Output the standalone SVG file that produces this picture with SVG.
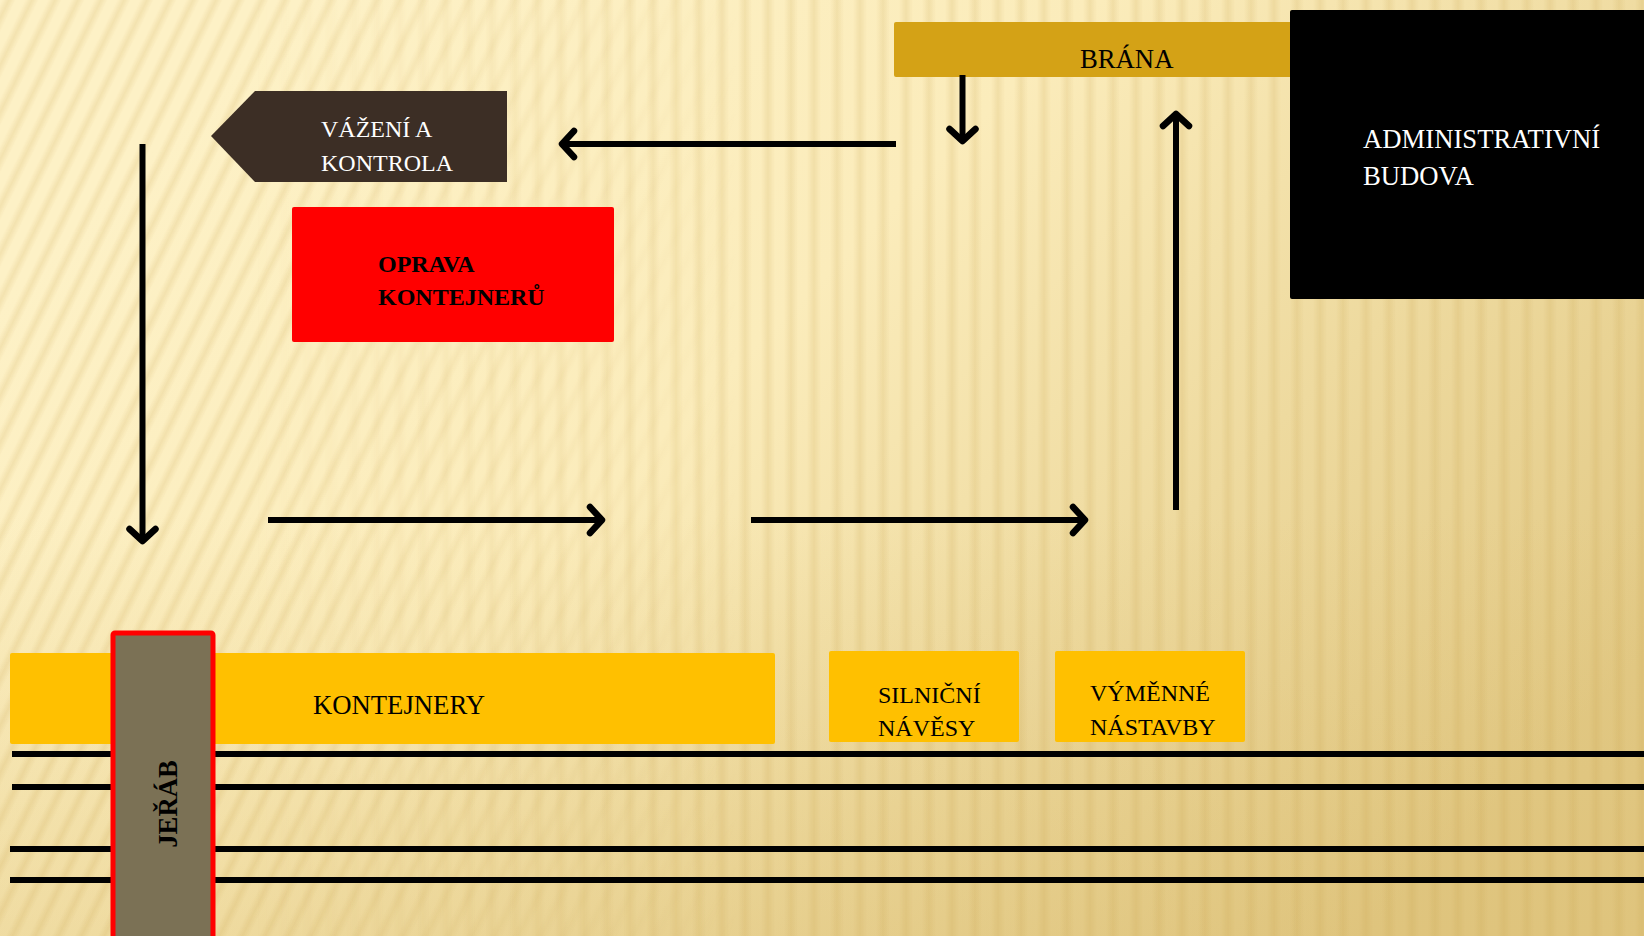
<svg xmlns="http://www.w3.org/2000/svg" width="1644" height="936" viewBox="0 0 1644 936">
<defs>
<style>
.t{font-family:"Liberation Serif","Times New Roman",serif;}
.w{fill:#ffffff;}
.k{fill:#000000;}
.s24{font-size:24px;}
.s27{font-size:26.7px;}
.b{font-weight:bold;}
.conn{stroke:#000;stroke-width:6;fill:none;}
.rail{stroke:#000;stroke-width:6;}
.yel{fill:#FFC000;}
</style>
<linearGradient id="bg" x1="300" y1="0" x2="1300" y2="1000" gradientUnits="userSpaceOnUse">
<stop offset="0" stop-color="#FDF1C6"/>
<stop offset="0.4" stop-color="#FBECBB"/>
<stop offset="0.7" stop-color="#EEDA9F"/>
<stop offset="1" stop-color="#E2C985"/>
</linearGradient>
<linearGradient id="bgV" x1="0" y1="0" x2="0" y2="936" gradientUnits="userSpaceOnUse">
<stop offset="0.55" stop-color="#D9BB6E" stop-opacity="0"/>
<stop offset="1" stop-color="#D9BB6E" stop-opacity="0.35"/>
</linearGradient>
<linearGradient id="stripeG" x1="0" y1="0" x2="1" y2="0">
<stop offset="0" stop-color="#C9A24A" stop-opacity="0"/>
<stop offset="0.5" stop-color="#C9A24A" stop-opacity="0.18"/>
<stop offset="1" stop-color="#C9A24A" stop-opacity="0"/>
</linearGradient>
<pattern id="stV" width="23" height="40" patternUnits="userSpaceOnUse">
<rect x="2" y="0" width="14" height="40" fill="url(#stripeG)"/>
</pattern>
<pattern id="stS" width="23" height="40" patternUnits="userSpaceOnUse" patternTransform="skewX(-26)">
<rect x="2" y="0" width="14" height="40" fill="url(#stripeG)"/>
</pattern>
<linearGradient id="mL" x1="0" y1="0" x2="1644" y2="0" gradientUnits="userSpaceOnUse">
<stop offset="0" stop-color="#fff"/>
<stop offset="0.15" stop-color="#fff"/>
<stop offset="0.45" stop-color="#000"/>
</linearGradient>
<linearGradient id="mR" x1="0" y1="0" x2="1644" y2="0" gradientUnits="userSpaceOnUse">
<stop offset="0" stop-color="#000"/>
<stop offset="0.15" stop-color="#000"/>
<stop offset="0.45" stop-color="#fff"/>
</linearGradient>
<mask id="maskL"><rect width="1644" height="936" fill="url(#mL)"/></mask>
<mask id="maskR"><rect width="1644" height="936" fill="url(#mR)"/></mask>
<marker id="ah" viewBox="-20 -20 30 40" markerUnits="userSpaceOnUse" markerWidth="30" markerHeight="40" refX="0" refY="0" orient="auto">
<path d="M -12 -13 L 0 0 L -12 13" fill="none" stroke="#000" stroke-width="6.5" stroke-linecap="round" stroke-linejoin="round"/>
</marker>
</defs>

<rect width="1644" height="936" fill="url(#bg)"/>
<rect width="1644" height="936" fill="url(#bgV)"/>
<rect width="1644" height="936" fill="url(#stS)" mask="url(#maskL)"/>
<rect width="1644" height="936" fill="url(#stV)" mask="url(#maskR)"/>

<g id="rails">
<line class="rail" x1="12" y1="754" x2="1644" y2="754"/>
<line class="rail" x1="12" y1="787" x2="1644" y2="787"/>
<line class="rail" x1="10" y1="849" x2="1644" y2="849"/>
<line class="rail" x1="10" y1="880" x2="1644" y2="880"/>
</g>

<g id="vazeni">
<polygon points="255,91 507,91 507,182 255,182 211,136" fill="#3C2E25"/>
<text class="t w s24" x="321" y="137">VÁŽENÍ A</text>
<text class="t w s24" x="321" y="171">KONTROLA</text>
</g>

<g id="oprava">
<rect x="292" y="207" width="322" height="135" rx="2" fill="#FF0000"/>
<text class="t k s24 b" x="378" y="272">OPRAVA</text>
<text class="t k s24 b" x="378" y="305">KONTEJNERŮ</text>
</g>

<g id="brana">
<rect x="894" y="22" width="400" height="55" rx="2" fill="#D4A216"/>
<text class="t k s27" x="1080" y="68">BRÁNA</text>
</g>

<g id="admin">
<rect x="1290" y="10" width="360" height="289" rx="2" fill="#000000"/>
<text class="t w s27" x="1363" y="148">ADMINISTRATIVNÍ</text>
<text class="t w s27" x="1363" y="185">BUDOVA</text>
</g>

<g id="kontejnery">
<rect class="yel" x="10" y="653" width="765" height="91" rx="2"/>
<text class="t k s27" x="313" y="714">KONTEJNERY</text>
</g>

<g id="silnicni">
<rect class="yel" x="829" y="651" width="190" height="91" rx="2"/>
<text class="t k s24" x="878" y="703">SILNIČNÍ</text>
<text class="t k s24" x="878" y="736">NÁVĚSY</text>
</g>

<g id="vymenne">
<rect class="yel" x="1055" y="651" width="190" height="91" rx="2"/>
<text class="t k s24" x="1090" y="701">VÝMĚNNÉ</text>
<text class="t k s24" x="1090" y="735">NÁSTAVBY</text>
</g>

<g id="jerab">
<rect x="113" y="633" width="100" height="320" rx="2" fill="#7B7155" stroke="#FF0000" stroke-width="5"/>
<text class="t k s27 b" text-anchor="middle" transform="translate(177,804) rotate(-90)">JEŘÁB</text>
</g>

<g id="connectors">
<line class="conn" x1="896" y1="144" x2="562" y2="144" marker-end="url(#ah)"/>
<line class="conn" x1="142.5" y1="144" x2="142.5" y2="541" marker-end="url(#ah)"/>
<line class="conn" x1="268" y1="520" x2="602" y2="520" marker-end="url(#ah)"/>
<line class="conn" x1="751" y1="520" x2="1085" y2="520" marker-end="url(#ah)"/>
<line class="conn" x1="1176" y1="510" x2="1176" y2="114" marker-end="url(#ah)"/>
<line class="conn" x1="962.5" y1="75" x2="962.5" y2="141" marker-end="url(#ah)"/>
</g>
</svg>
